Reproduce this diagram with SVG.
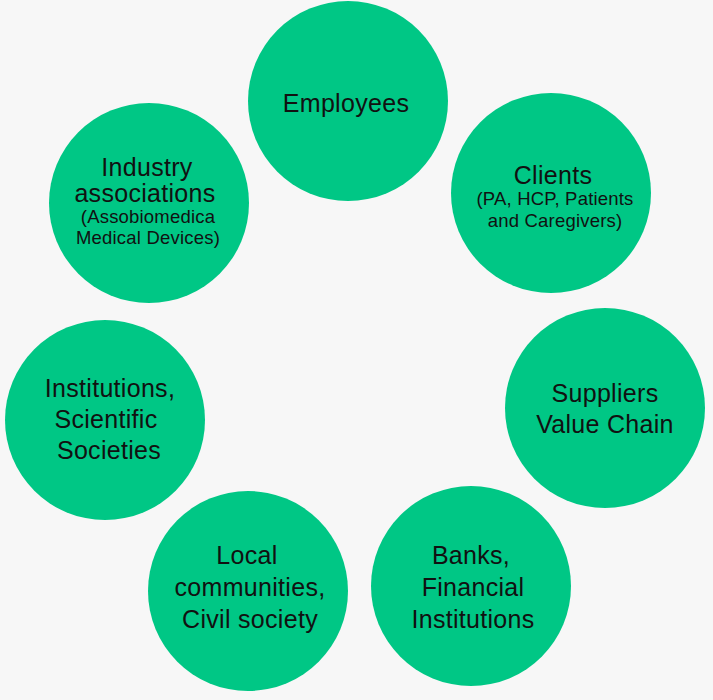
<svg xmlns="http://www.w3.org/2000/svg" width="713" height="700" viewBox="0 0 713 700">
<style>
.bg{fill:#f7f7f7}
.c{fill:#00c785}
.t{font-family:"Liberation Sans",Arial,sans-serif;font-size:25px;letter-spacing:0.3px;fill:#111;text-anchor:middle}
.s{font-family:"Liberation Sans",Arial,sans-serif;font-size:18.5px;letter-spacing:0.2px;fill:#111;text-anchor:middle}
</style>
<rect class="bg" x="0" y="0" width="713" height="700"/>
<g id="employees">
<circle class="c" cx="348" cy="101" r="100"/>
<text class="t" x="346" y="112">Employees</text>
</g>
<g id="clients">
<circle class="c" cx="551" cy="193" r="100"/>
<text class="t" x="553" y="184">Clients</text>
<text class="s" x="555" y="205">(PA, HCP, Patients</text>
<text class="s" x="555" y="227">and Caregivers)</text>
</g>
<g id="suppliers">
<circle class="c" cx="605" cy="408" r="100"/>
<text class="t" x="605" y="402">Suppliers</text>
<text class="t" x="605" y="433">Value Chain</text>
</g>
<g id="banks">
<circle class="c" cx="471" cy="586" r="100"/>
<text class="t" x="471" y="564">Banks,</text>
<text class="t" x="473" y="596">Financial</text>
<text class="t" x="473" y="628">Institutions</text>
</g>
<g id="local">
<circle class="c" cx="248" cy="591" r="100"/>
<text class="t" x="247" y="564">Local</text>
<text class="t" x="250" y="596">communities,</text>
<text class="t" x="250" y="628">Civil society</text>
</g>
<g id="institutions">
<circle class="c" cx="105" cy="420" r="100"/>
<text class="t" x="110" y="397">Institutions,</text>
<text class="t" x="106" y="428">Scientific</text>
<text class="t" x="109" y="459">Societies</text>
</g>
<g id="industry">
<circle class="c" cx="149" cy="203" r="100"/>
<text class="t" x="147" y="176">Industry</text>
<text class="t" x="145" y="202">associations</text>
<text class="s" x="148" y="223">(Assobiomedica</text>
<text class="s" x="148" y="244">Medical Devices)</text>
</g>
<g id="connectors"></g>
</svg>
